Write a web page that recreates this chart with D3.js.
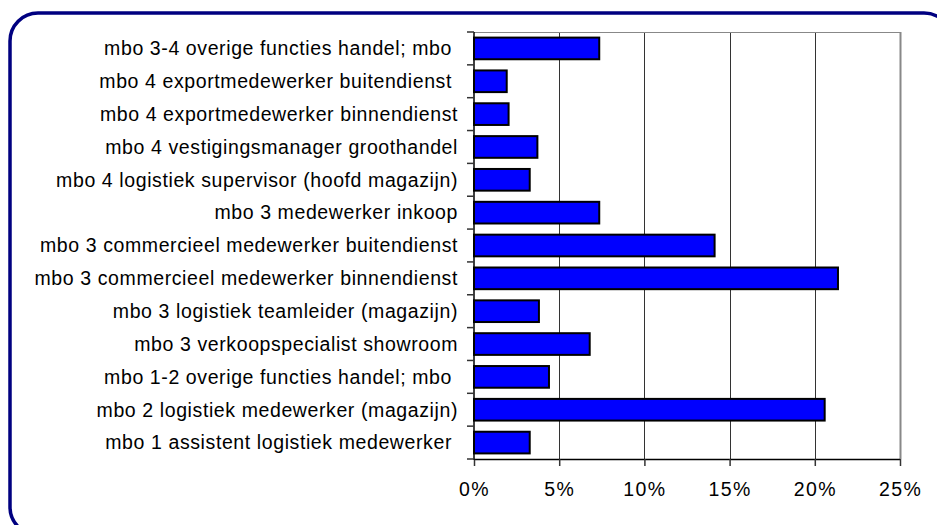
<!DOCTYPE html>
<html>
<head>
<meta charset="utf-8">
<script src="https://cdn.jsdelivr.net/npm/d3@7"></script>
<style>
  html, body { margin: 0; padding: 0; background: #fff; }
  svg { display: block; }
  text { font-family: "Liberation Sans", Arial, sans-serif; white-space: pre; }
</style>
</head>
<body>
<script>
const categories = [
  "mbo 3-4 overige functies handel; mbo ",
  "mbo 4 exportmedewerker buitendienst ",
  "mbo 4 exportmedewerker binnendienst",
  "mbo 4 vestigingsmanager groothandel",
  "mbo 4 logistiek supervisor (hoofd magazijn)",
  "mbo 3 medewerker inkoop",
  "mbo 3 commercieel medewerker buitendienst",
  "mbo 3 commercieel medewerker binnendienst",
  "mbo 3 logistiek teamleider (magazijn)",
  "mbo 3 verkoopspecialist showroom",
  "mbo 1-2 overige functies handel; mbo ",
  "mbo 2 logistiek medewerker (magazijn)",
  "mbo 1 assistent logistiek medewerker "
];
const values = [0.0735, 0.0192, 0.0203, 0.0372, 0.0327, 0.0735, 0.1412, 0.2136, 0.0381, 0.0679, 0.0440, 0.2058, 0.0327];
const xTicks = [0, 0.05, 0.10, 0.15, 0.20, 0.25];

(function () {
const W = 937, H = 525;
const svg = d3.select("body").append("svg").attr("width", W).attr("height", H);

// outer rounded frame
svg.append("rect")
  .attr("x", 10).attr("y", 13).attr("width", 942).attr("height", 522)
  .attr("rx", 28).attr("ry", 28)
  .attr("fill", "#fff").attr("stroke", "#000080").attr("stroke-width", 3.5);

const pLeft = 474, pRight = 900, pTop = 32, pBottom = 459;
const x = d3.scaleLinear().domain([0, 0.25]).range([pLeft, pRight]);
const y = d3.scaleBand().domain(categories).range([pTop, pBottom]).padding(0);
const barFrac = 0.66;

// gridlines
svg.append("g").selectAll("line").data(xTicks.slice(1, -1)).join("line")
  .attr("x1", d => Math.round(x(d)) + 0.5).attr("x2", d => Math.round(x(d)) + 0.5)
  .attr("y1", pTop).attr("y2", pBottom)
  .attr("stroke", "#333").attr("stroke-width", 1);

// plot frame top & right
svg.append("line").attr("x1", pLeft).attr("x2", pRight).attr("y1", pTop + 0.5).attr("y2", pTop + 0.5)
  .attr("stroke", "#888").attr("stroke-width", 1);
svg.append("line").attr("x1", pRight + 0.5).attr("x2", pRight + 0.5).attr("y1", pTop).attr("y2", pBottom)
  .attr("stroke", "#888").attr("stroke-width", 2);

// bars
svg.append("g").selectAll("rect").data(values).join("rect")
  .attr("x", x(0))
  .attr("y", (d, i) => y(categories[i]) + y.bandwidth() * (1 - barFrac) / 2)
  .attr("width", d => x(d) - x(0))
  .attr("height", y.bandwidth() * barFrac)
  .attr("fill", "#0000ff").attr("stroke", "#000").attr("stroke-width", 2);

// x axis
const xAxis = d3.axisBottom(x).tickValues(xTicks).tickFormat(d3.format(".0%")).tickSize(7).tickPadding(16);
const gx = svg.append("g").attr("transform", `translate(0,${pBottom})`).call(xAxis);
gx.select(".domain").attr("stroke", "#000").attr("stroke-width", 1.5).attr("d", `M${pLeft},0.5H${pRight}`);
gx.selectAll(".tick line").attr("stroke", "#333").attr("stroke-width", 1.5);
gx.selectAll(".tick text").attr("font-size", "19.5px").attr("fill", "#000")
  .style("letter-spacing", "1.4px");

// y axis line
svg.append("line").attr("x1", pLeft).attr("x2", pLeft).attr("y1", pTop).attr("y2", pBottom + 1)
  .attr("stroke", "#000").attr("stroke-width", 1.5);
// y ticks at band boundaries
const bounds = d3.range(categories.length + 1).map(i => y.range()[0] + i * y.step());
svg.append("g").selectAll("line").data(bounds).join("line")
  .attr("x1", pLeft - 7).attr("x2", pLeft)
  .attr("y1", d => d).attr("y2", d => d)
  .attr("stroke", "#333").attr("stroke-width", 1.5);

// y labels
svg.append("g").selectAll("text").data(categories).join("text")
  .attr("x", 458)
  .attr("y", d => y(d) + y.bandwidth() / 2)
  .attr("dy", "0.35em")
  .attr("text-anchor", "end")
  .attr("font-size", "19.5px")
  .style("letter-spacing", "0.6px")
  .attr("fill", "#000")
  .text(d => d);
})();
</script>
</body>
</html>
